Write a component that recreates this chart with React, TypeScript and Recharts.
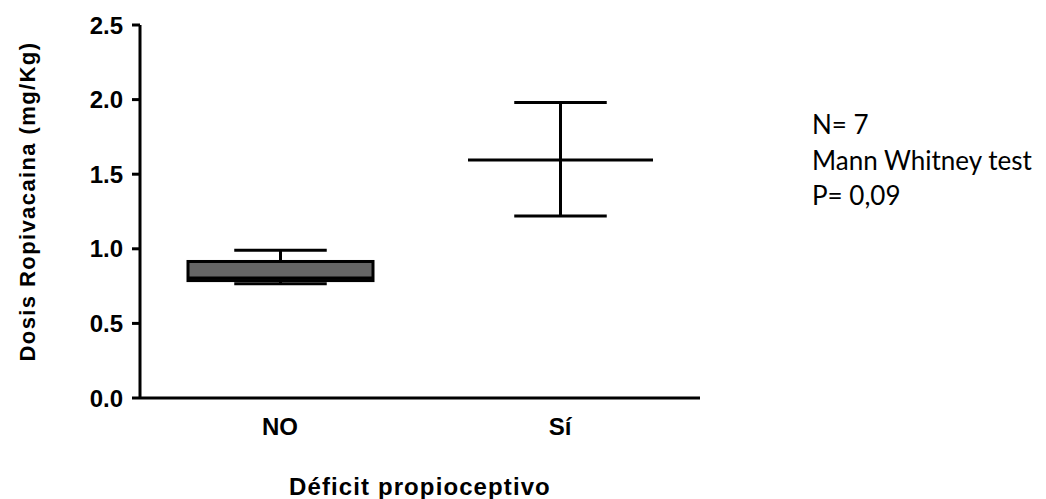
import React from "react";
import { ComposedChart, Bar, XAxis, YAxis } from "recharts";

const groups = ["NO", "Sí"];
const mins = [0.765, 1.22];
const q1s: (number | null)[] = [0.787, null];
const medians = [0.805, 1.595];
const q3s: (number | null)[] = [0.915, null];
const maxs = [0.99, 1.98];
const yTicks = [0, 0.5, 1.0, 1.5, 2.0, 2.5];
const notes = ["N= 7", "Mann Whitney test", "P= 0,09"];

const data = groups.map((g, i) => ({
  group: g,
  range: [mins[i], maxs[i]],
  min: mins[i],
  q1: q1s[i],
  median: medians[i],
  q3: q3s[i],
  max: maxs[i],
}));

const BoxShape = (props: any) => {
  const { x, y, width, height, payload } = props;
  const top = Math.min(y, y + height);
  const span = Math.abs(height);
  const { min, max, q1, q3, median } = payload;
  const py = (v: number) => top + (span * (max - v)) / (max - min);
  const cx = x + width / 2;
  const capHalf = width / 4;
  const sw = 3;
  const els: any[] = [];
  els.push(<line key="w" x1={cx} x2={cx} y1={py(max)} y2={py(min)} stroke="#000" strokeWidth={sw} />);
  els.push(<line key="cmax" x1={cx - capHalf} x2={cx + capHalf} y1={py(max)} y2={py(max)} stroke="#000" strokeWidth={sw} />);
  els.push(<line key="cmin" x1={cx - capHalf} x2={cx + capHalf} y1={py(min)} y2={py(min)} stroke="#000" strokeWidth={sw} />);
  if (q1 != null && q3 != null) {
    els.push(
      <rect key="box" x={x} y={py(q3)} width={width} height={py(q1) - py(q3)} fill="#666666" stroke="#000" strokeWidth={sw} />
    );
  }
  els.push(<line key="med" x1={x} x2={x + width} y1={py(median)} y2={py(median)} stroke="#000" strokeWidth={sw} />);
  return <g>{els}</g>;
};

const tickFont = { fill: "#000", fontSize: 24, fontWeight: "bold", fontFamily: "'Liberation Sans', Arial, sans-serif" };

const YLabel = (props: any) => {
  const vb = props.viewBox || {};
  const x = 27;
  const y = vb.y + vb.height / 2 - 10;
  return (
    <text x={x} y={y} transform={`rotate(-90, ${x}, ${y})`} textAnchor="middle" dominantBaseline="central"
      fontSize={22} fontWeight="bold" letterSpacing={1.4} fontFamily="'Liberation Sans', Arial, sans-serif" fill="#000">
      Dosis Ropivacaina (mg/Kg)
    </text>
  );
};

const XLabel = (props: any) => {
  const vb = props.viewBox || {};
  const x = vb.x + vb.width / 2;
  return (
    <text x={x} y={495} textAnchor="middle" fontSize={24} fontWeight="bold" letterSpacing={1.1}
      fontFamily="'Liberation Sans', Arial, sans-serif" fill="#000">
      Déficit propioceptivo
    </text>
  );
};

export default function App() {
  return (
    <div style={{ position: "absolute", left: 0, top: 0, width: 1046, height: 499, background: "#fff" }}>
      <ComposedChart width={1046} height={499} data={data} margin={{ top: 25, right: 346, bottom: 0, left: 0 }}>
        <XAxis
          dataKey="group"
          type="category"
          height={101}
          axisLine={{ stroke: "#000", strokeWidth: 3 }}
          tickLine={false}
          tickSize={0}
          tickMargin={20}
          tick={tickFont}
          label={<XLabel />}
        />
        <YAxis
          type="number"
          domain={[0, 2.5]}
          ticks={yTicks}
          width={140}
          interval={0}
          axisLine={{ stroke: "#000", strokeWidth: 3 }}
          tickLine={{ stroke: "#000", strokeWidth: 3 }}
          tickSize={8}
          tickMargin={9}
          tick={tickFont}
          tickFormatter={(v: number) => v.toFixed(1)}
          label={<YLabel />}
        />
        <Bar dataKey="range" barSize={185} isAnimationActive={false} shape={<BoxShape />} />
      </ComposedChart>
      <svg width={1046} height={499} style={{ position: "absolute", left: 0, top: 0, pointerEvents: "none" }}>
        {notes.map((t, i) => (
          <text key={i} x={812} y={134 + i * 35.5} fontSize={26} fontFamily="Lato, 'Open Sans', sans-serif" fill="#000">
            {t}
          </text>
        ))}
      </svg>
    </div>
  );
}
